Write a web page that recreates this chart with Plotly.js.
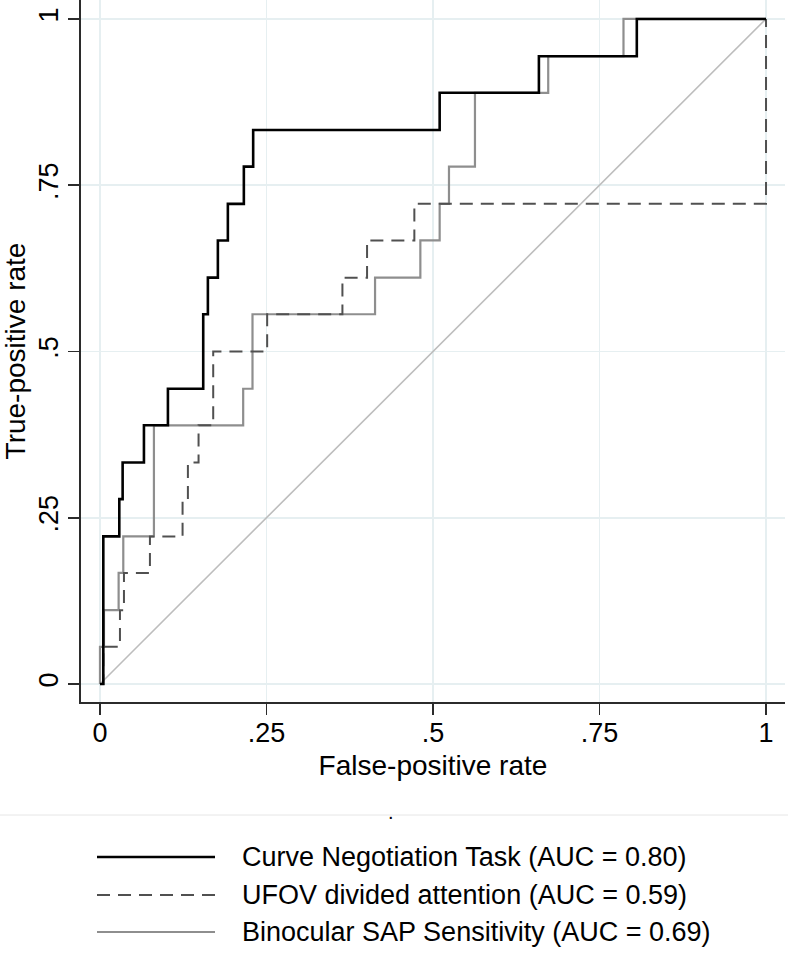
<!DOCTYPE html>
<html>
<head>
<meta charset="utf-8">
<script src="https://cdn.plot.ly/plotly-3.0.1.min.js"></script>
<style>html,body{margin:0;padding:0;background:#fff;}#chart{width:788px;height:967px;}</style>
</head>
<body>
<div id="chart"></div>
<script>
// ROC points (false-positive rate, true-positive rate)
const cntFPR   = [0, 0.005, 0.029, 0.034, 0.066, 0.102, 0.155, 0.162, 0.177, 0.192, 0.216, 0.230, 0.510, 0.659, 0.806, 1];
const cntTPR   = [0, 0.222, 0.278, 0.333, 0.389, 0.444, 0.556, 0.611, 0.667, 0.722, 0.778, 0.833, 0.889, 0.944, 1, 1];

const ufovFPR  = [0, 0.005, 0.030, 0.036, 0.075, 0.124, 0.132, 0.148, 0.170, 0.251, 0.364, 0.401, 0.472, 1, 1];
const ufovTPR  = [0, 0.056, 0.111, 0.167, 0.222, 0.278, 0.333, 0.389, 0.500, 0.556, 0.611, 0.667, 0.722, 0.722, 1];

const sapFPR   = [0, 0.000, 0.006, 0.028, 0.035, 0.081, 0.215, 0.229, 0.413, 0.481, 0.510, 0.524, 0.563, 0.673, 0.786, 1];
const sapTPR   = [0, 0.056, 0.111, 0.167, 0.222, 0.389, 0.444, 0.556, 0.611, 0.667, 0.722, 0.778, 0.889, 0.944, 1, 1];

const refX = [0, 1];
const refY = [0, 1];

const seriesNames = [
  'Curve Negotiation Task (AUC = 0.80)',
  'UFOV divided attention (AUC = 0.59)',
  'Binocular SAP Sensitivity (AUC = 0.69)'
];
const tickVals = [0, 0.25, 0.5, 0.75, 1];
const tickText = ['0', '.25', '.5', '.75', '1'];

const FONT = 'Liberation Sans, Arial, Helvetica, sans-serif';
const styles = [
  {color: '#000000', width: 2.6, dash: 'solid'},
  {color: '#505050', width: 2, dash: '13px,8px'},
  {color: '#8e8e8e', width: 2.2, dash: 'solid'}
];

const traces = [
  {x: refX, y: refY, mode: 'lines', line: {color: '#bdbdbd', width: 1.6}, showlegend: false, hoverinfo: 'skip'},
  {x: sapFPR, y: sapTPR, mode: 'lines', line: Object.assign({shape: 'hv'}, styles[2]), name: seriesNames[2], showlegend: false},
  {x: ufovFPR, y: ufovTPR, mode: 'lines', line: Object.assign({shape: 'hv'}, styles[1]), name: seriesNames[1], showlegend: false},
  {x: cntFPR, y: cntTPR, mode: 'lines', line: Object.assign({shape: 'hv'}, styles[0]), name: seriesNames[0], showlegend: false}
];

// plot-area pixel geometry helpers (for the legend block below the plot)
const W = 788, H = 967, ML = 81, MR = 3, MT = 0, MB = 265;
const PW = W - ML - MR, PH = H - MT - MB;
const px = v => (v - ML) / PW;
const py = v => (H - MB - v) / PH;

const legendRows = [857, 895, 932];
const shapes = [
  {type: 'line', xref: 'paper', yref: 'paper', x0: px(0), x1: px(788), y0: py(815), y1: py(815), line: {color: '#e6e6e6', width: 1}}
];
const annotations = [
  {xref: 'paper', yref: 'paper', x: px(391), y: py(812), text: '.', showarrow: false, font: {family: FONT, size: 20, color: '#000'}, xanchor: 'center', yanchor: 'middle'}
];
legendRows.forEach((r, i) => {
  shapes.push({type: 'line', xref: 'paper', yref: 'paper', x0: px(97), x1: px(215), y0: py(r), y1: py(r),
    line: {color: styles[i].color, width: styles[i].width, dash: styles[i].dash}});
  annotations.push({xref: 'paper', yref: 'paper', x: px(240), y: py(r), text: seriesNames[i], showarrow: false,
    xanchor: 'left', yanchor: 'middle', font: {family: FONT, size: 27, color: '#000'}});
});

const axisCommon = {
  showline: true, linecolor: '#2b2b2b', linewidth: 1.6,
  ticks: 'outside', ticklen: 11, tickwidth: 1.6, tickcolor: '#2b2b2b',
  showgrid: true, gridcolor: '#e6eff1', gridwidth: 1.6,
  zeroline: false, mirror: false,
  tickvals: tickVals, ticktext: tickText,
  tickfont: {family: FONT, size: 27, color: '#000'},
  automargin: false, fixedrange: true
};

const layout = {
  width: W, height: H,
  margin: {l: ML, r: MR, t: MT, b: MB, pad: 0},
  paper_bgcolor: '#ffffff', plot_bgcolor: '#ffffff',
  font: {family: FONT, color: '#000'},
  showlegend: false,
  xaxis: Object.assign({}, axisCommon, {
    range: [-0.0285, 1.0285],
    ticklabelstandoff: -5,
    title: {text: 'False-positive rate', font: {family: FONT, size: 28, color: '#000'}, standoff: 8}
  }),
  yaxis: Object.assign({}, axisCommon, {
    range: [-0.027, 1.0285],
    tickangle: -90,
    title: {text: 'True-positive rate', font: {family: FONT, size: 28, color: '#000'}, standoff: 8}
  }),
  shapes: shapes,
  annotations: annotations
};

Plotly.newPlot('chart', traces, layout, {displayModeBar: false, staticPlot: true});
</script>
</body>
</html>
